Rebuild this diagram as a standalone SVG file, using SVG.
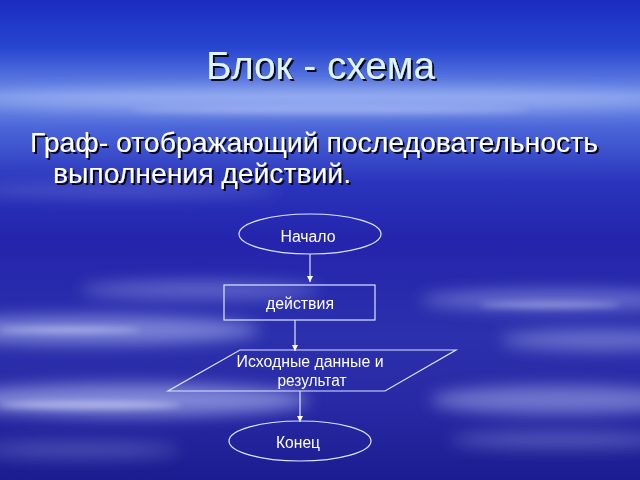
<svg xmlns="http://www.w3.org/2000/svg" width="640" height="480" viewBox="0 0 640 480">
<defs>
<linearGradient id="bg" x1="0" y1="0" x2="0" y2="1">
<stop offset="0" stop-color="#1a2cc0"/>
<stop offset="0.1" stop-color="#2846d0"/>
<stop offset="0.2" stop-color="#6f8ee6"/>
<stop offset="0.27" stop-color="#4a64d8"/>
<stop offset="0.38" stop-color="#2a34bc"/>
<stop offset="0.5" stop-color="#2424ac"/>
<stop offset="0.7" stop-color="#2c30ac"/>
<stop offset="0.85" stop-color="#2828a4"/>
<stop offset="1" stop-color="#1c1c90"/>
</linearGradient>
<filter id="blur" x="-20%" y="-50%" width="140%" height="200%"><feGaussianBlur stdDeviation="8"/></filter>
<filter id="blur2" x="-20%" y="-50%" width="140%" height="200%"><feGaussianBlur stdDeviation="3"/></filter>
<filter id="shadow" x="-5%" y="-20%" width="110%" height="140%"><feDropShadow dx="2" dy="2" stdDeviation="0.6" flood-color="#000010" flood-opacity="0.9"/></filter>
<marker id="arr" markerWidth="6" markerHeight="8" refX="6" refY="3" orient="auto" markerUnits="userSpaceOnUse" viewBox="0 0 6 6">
<path d="M0,0 L6,3 L0,6 Z" fill="#ffffff"/>
</marker>
<style>
.title{font-family:"Liberation Sans",Arial,sans-serif;font-size:38px;fill:#dff4ff;}
.body{font-family:"Liberation Sans",Arial,sans-serif;font-size:28px;fill:#ffffff;}
.shape{fill:none;stroke:#dde4ff;stroke-width:1.2;}
.lbl{font-family:"Liberation Sans",Arial,sans-serif;font-size:16px;fill:#ffffff;text-anchor:middle;}
.conn{stroke:#dde4ff;stroke-width:1.2;fill:none;}
</style>
</defs>
<g id="background">
<rect width="640" height="480" fill="url(#bg)"/>
<g filter="url(#blur)" fill="#c8d4ff">
<ellipse cx="330" cy="100" rx="360" ry="12" opacity="0.45"/>
<ellipse cx="120" cy="190" rx="160" ry="6" opacity="0.25"/>
<ellipse cx="560" cy="300" rx="140" ry="10" opacity="0.4"/>
<ellipse cx="600" cy="340" rx="100" ry="10" opacity="0.4"/>
<ellipse cx="90" cy="330" rx="170" ry="14" opacity="0.5"/>
<ellipse cx="130" cy="400" rx="180" ry="16" opacity="0.55"/>
<ellipse cx="560" cy="400" rx="130" ry="14" opacity="0.45"/>
<ellipse cx="200" cy="290" rx="120" ry="9" opacity="0.35"/>
<ellipse cx="560" cy="440" rx="110" ry="8" opacity="0.3"/>
<ellipse cx="80" cy="450" rx="100" ry="8" opacity="0.25"/>
</g>
<g filter="url(#blur2)" fill="#e6ecff">
<ellipse cx="90" cy="405" rx="90" ry="4" opacity="0.5"/>
<ellipse cx="70" cy="330" rx="70" ry="3" opacity="0.45"/>
<ellipse cx="550" cy="305" rx="70" ry="3" opacity="0.4"/>
<ellipse cx="330" cy="110" rx="200" ry="3" opacity="0.35"/>
</g>
</g>
<g id="title" filter="url(#shadow)">
<text class="title" x="206" y="79" textLength="229" lengthAdjust="spacingAndGlyphs">Блок - схема</text>
</g>
<g id="description" filter="url(#shadow)">
<text class="body" x="30" y="152" textLength="568" lengthAdjust="spacingAndGlyphs">Граф- отображающий последовательность</text>
<text class="body" x="53" y="183" textLength="298" lengthAdjust="spacingAndGlyphs">выполнения действий.</text>
</g>
<g id="connectors">
<line class="conn" x1="310" y1="254" x2="310" y2="282" marker-end="url(#arr)"/>
<line class="conn" x1="295" y1="320" x2="295" y2="351" marker-end="url(#arr)"/>
<line class="conn" x1="300" y1="391" x2="300" y2="422" marker-end="url(#arr)"/>
</g>
<g id="node-start">
<ellipse class="shape" cx="310" cy="234" rx="71" ry="20"/>
<text class="lbl" x="308" y="242" textLength="55" lengthAdjust="spacingAndGlyphs">Начало</text>
</g>
<g id="node-action">
<rect class="shape" x="224" y="285" width="151" height="35"/>
<text class="lbl" x="300" y="309" textLength="68" lengthAdjust="spacingAndGlyphs">действия</text>
</g>
<g id="node-io">
<polygon class="shape" points="240,350 456,350 385,391 168,391"/>
<text class="lbl" x="310" y="367" textLength="147" lengthAdjust="spacingAndGlyphs">Исходные данные и</text>
<text class="lbl" x="312" y="386" textLength="69" lengthAdjust="spacingAndGlyphs">результат</text>
</g>
<g id="node-end">
<ellipse class="shape" cx="300" cy="441" rx="71" ry="20"/>
<text class="lbl" x="298" y="448" textLength="44" lengthAdjust="spacingAndGlyphs">Конец</text>
</g>
</svg>
